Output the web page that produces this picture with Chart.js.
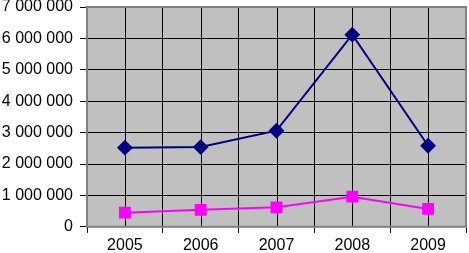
<!DOCTYPE html>
<html>
<head>
<meta charset="utf-8">
<script src="https://cdn.jsdelivr.net/npm/chart.js@4"></script>
<style>
  html, body { margin: 0; padding: 0; background: #fff; }
  #wrap { width: 469px; height: 253px; }
</style>
</head>
<body>
<div id="wrap"><canvas id="chart"></canvas></div>
<script>
const years = ["2005", "2006", "2007", "2008", "2009"];
const seriesBlue = [2520000, 2540000, 3060000, 6120000, 2580000];
const seriesPink = [450000, 540000, 620000, 960000, 570000];
const yTicks = [0, 1000000, 2000000, 3000000, 4000000, 5000000, 6000000, 7000000];

// gray plot area, grid lines at category centres, dark border
const plotArea = {
  id: "plotArea",
  beforeDraw(chart) {
    const { ctx, chartArea: a } = chart;
    ctx.save();
    ctx.fillStyle = "#c0c0c0";
    ctx.fillRect(a.left, a.top, a.right - a.left, a.bottom - a.top);
    ctx.restore();
  },
  beforeDatasetsDraw(chart) {
    const { ctx, chartArea: a, scales: { x } } = chart;
    ctx.save();
    ctx.strokeStyle = "#000";
    ctx.lineWidth = 1;
    for (let i = 0; i < years.length; i++) {
      const px = Math.round(x.getPixelForValue(i)) + 0.5;
      ctx.beginPath();
      ctx.moveTo(px, a.top);
      ctx.lineTo(px, a.bottom);
      ctx.stroke();
    }
    ctx.strokeStyle = "#808080";
    ctx.lineWidth = 2;
    ctx.strokeRect(a.left, a.top, a.right - a.left, a.bottom - a.top);
    ctx.restore();
  },
};

const config = {
  type: "line",
  data: {
    labels: years,
    datasets: [
      {
        data: seriesBlue,
        borderColor: "#000080",
        backgroundColor: "#000080",
        borderWidth: 2,
        pointStyle: "rectRot",
        pointRadius: 6.5,
        tension: 0,
      },
      {
        data: seriesPink,
        borderColor: "#ff00ff",
        backgroundColor: "#ff00ff",
        borderWidth: 2,
        pointStyle: "rect",
        pointRadius: 7,
        tension: 0,
      },
    ],
  },
  options: {
    responsive: true,
    maintainAspectRatio: false,
    animation: false,
    layout: { autoPadding: false, padding: { top: 7, right: 3, left: 0, bottom: -5 } },
    plugins: {
      legend: { display: false },
      tooltip: { enabled: false },
    },
    scales: {
      x: {
        offset: true,
        afterFit: (axis) => {
          axis.paddingLeft = 0;
          axis.paddingRight = 0;
        },
        grid: {
          offset: true,
          color: "#000",
          lineWidth: 1,
          tickLength: 6,
          tickColor: "#000",
        },
        border: { color: "#000" },
        ticks: {
          color: "#000",
          padding: 3,
          font: { family: "Liberation Sans", size: 16 },
        },
      },
      y: {
        min: 0,
        max: 7000000,
        afterBuildTicks: (axis) => {
          axis.ticks = yTicks.map((v) => ({ value: v }));
        },
        afterFit: (axis) => {
          axis.width = 87;
          axis.paddingTop = 0;
          axis.paddingBottom = 0;
        },
        grid: {
          color: "#000",
          lineWidth: 1,
          tickLength: 7,
          tickColor: "#000",
        },
        border: { color: "#000" },
        ticks: {
          color: "#000",
          padding: 7,
          font: { family: "Liberation Sans", size: 16 },
          callback: (v) => String(v).replace(/\B(?=(\d{3})+(?!\d))/g, " "),
        },
      },
    },
  },
  plugins: [plotArea],
};

new Chart(document.getElementById("chart"), config);
</script>
</body>
</html>
